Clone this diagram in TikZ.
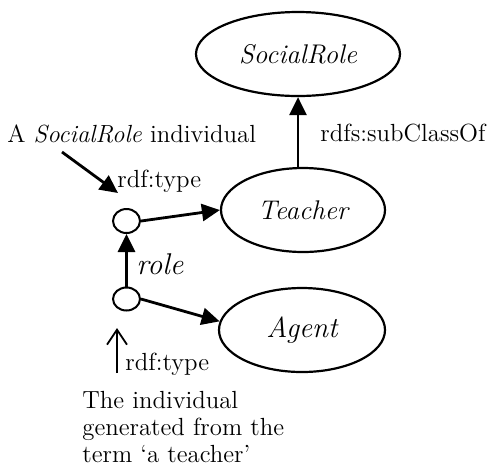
\documentclass[tikz,border=0pt]{standalone}
\usetikzlibrary{arrows.meta,calc,shapes.geometric}
\tikzset{
  cls/.style={draw, ellipse, line width=1.1pt, inner sep=0pt,
    font=\fontsize{13.5}{15}\selectfont\itshape},
  inst/.style={draw, ellipse, line width=1pt, minimum width=13.5pt,
    minimum height=12pt, inner sep=0pt},
  arr/.style={line width=1.4pt, -{Triangle[length=9pt,width=8.5pt]}},
  openarr/.style={line width=0.9pt, -{Straight Barb[length=7.5pt,width=10pt]}},
  lbl/.style={inner sep=0pt, font=\fontsize{12.4}{13.5}\selectfont},
}
\begin{document}
\begin{tikzpicture}[x=0.5pt,y=-0.5pt]
  \useasboundingbox (0,0) rectangle (497,468);

  % classes
  \node[cls, minimum width=102pt, minimum height=42pt] (social) at (298,54) {SocialRole};
  \node[cls, minimum width=82pt, minimum height=42pt] (teacher) at (303,210) {Teacher};
  \node[cls, minimum width=83pt, minimum height=42pt,
        font=\fontsize{14.5}{16}\selectfont\itshape] (agent) at (302,330) {Agent};

  % individuals
  \node[inst] (up) at (126.5,221) {};
  \node[inst, minimum height=11.5pt] (low) at (126.5,299) {};

  % relations
  \draw[arr] (teacher.north -| social.south) -- (social.south);
  \draw[arr] (low.north) -- (up.south);
  \draw[arr] (up.east) -- (teacher.west);
  \draw[arr] (low.east) -- (agent.174);

  % labels
  \node[lbl, anchor=base west] (subcls) at (320,141) {rdfs:subClassOf};
  \node[lbl, anchor=base west] (desc) at (7,142) {A \textit{SocialRole} individual};
  \node[lbl, anchor=base west] (type1) at (117,187) {rdf:type};
  \node[lbl, anchor=base west, font=\fontsize{15}{17}\selectfont\itshape] (rolelbl) at (136,274) {role};
  \node[lbl, anchor=base west] (type2) at (125,370) {rdf:type};
  \node[lbl, anchor=north west, align=left] (gen) at (82,391)
    {The individual\\generated from the\\term `a teacher'};

  % pointer arrows from the annotations
  \coordinate (dtail) at (62,152);
  \coordinate (dtip) at (118,193);
  \draw[arr] (dtail) -- (dtip);
  \coordinate (gtail) at (117,373);
  \coordinate (gtip) at (117,328);
  \draw[openarr] (gtail) -- (gtip);
\end{tikzpicture}
\end{document}
